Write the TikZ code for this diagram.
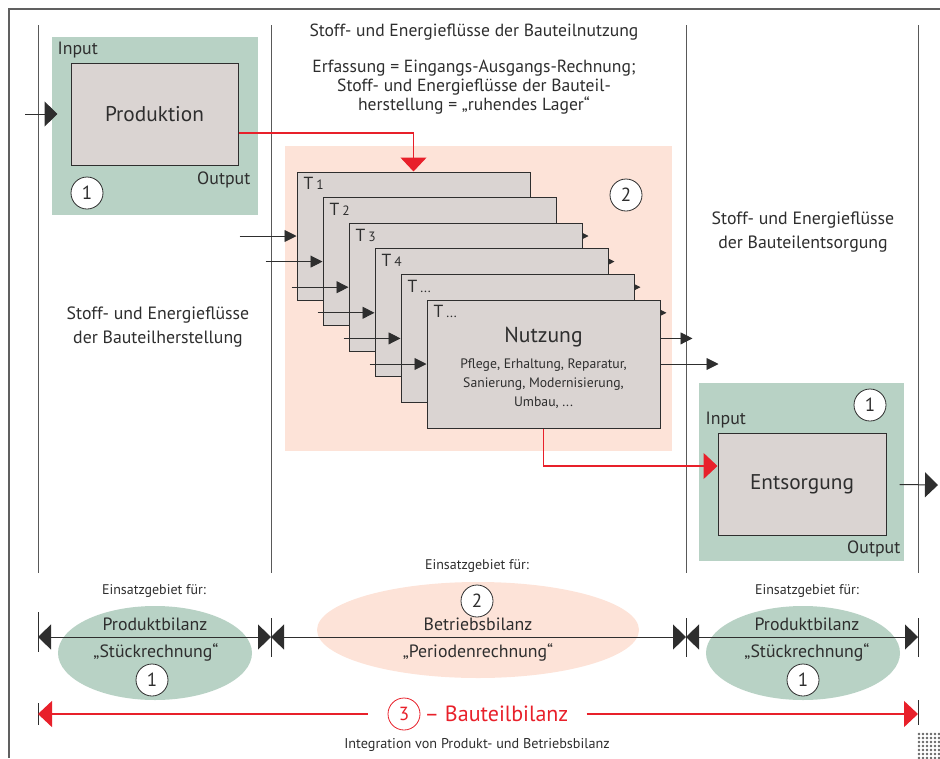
\documentclass[tikz,border=0pt]{standalone}
\usepackage{fontspec}
\setmainfont{PT Sans}
\usetikzlibrary{arrows.meta,positioning}
\definecolor{gruen}{HTML}{B8D2C5}
\definecolor{lachs}{HTML}{FDE3D8}
\definecolor{grau}{HTML}{DAD4D2}
\definecolor{rot}{HTML}{E8202A}
\definecolor{dunkel}{HTML}{2E2E2E}
\newcommand{\schrift}[2]{\fontsize{#1}{#2}\selectfont}
\begin{document}
\begin{tikzpicture}[x=1pt,y=-1pt,text=dunkel,
	feld/.style={fill=gruen,inner sep=0,minimum width=206pt,minimum height=178pt},
	prozess/.style={draw=dunkel,fill=grau,line width=1pt,inner sep=0},
	nummer/.style={circle,draw=dunkel,fill=white,line width=0.8pt,minimum size=32pt,inner sep=0,font={\schrift{19}{22}}},
	gross/.style={-{Triangle[length=13pt,width=25pt]},dunkel,line width=1pt},
	klein/.style={-{Triangle[length=12pt,width=12pt]},dunkel,line width=0.9pt},
	rotpfeil/.style={-{Triangle[length=14pt,width=26pt]},rot,line width=1.3pt},
	mass/.style={{Triangle[length=13pt,width=25pt]}-{Triangle[length=13pt,width=25pt]},dunkel,line width=1pt},
	trenn/.style={gray!70!black,line width=0.9pt},
	text15/.style={align=center,font={\schrift{17.8}{24.5}}},
	klein12/.style={font={\schrift{14}{16}}},
	bilanz/.style={font={\schrift{17.8}{21}}},
	io/.style={inner sep=0,font={\schrift{17.8}{21}}}]
	\useasboundingbox (0,0) rectangle (940,758);
	\draw[gray!75!black,line width=1.6pt] (9,758) -- (9,9) -- (940,9);
	\foreach \x in {38,271,686,918}
		\draw[trenn] (\x,25) -- (\x,573);
	\node[feld] (hfeld) at (155,126) {};
	\node[prozess,minimum width=167pt,minimum height=102pt,font={\schrift{21.3}{25}}] (prod) at (154.5,114) {Produktion};
	\node[io,anchor=south west] (prodin) at ([xshift=-13pt,yshift=4pt]prod.north west) {Input};
	\node[io,anchor=north east] (prodout) at ([xshift=12pt,yshift=-6pt]prod.south east) {Output};
	\node[nummer] (n1) at (87,193) {1};
	\coordinate (pein) at (25,114);
	\draw[gross] (pein) -- ([xshift=-13pt]prod.west);
	\node[fill=lachs,inner sep=0,minimum width=387pt,minimum height=305pt] (nfeld) at (478.5,298.5) {};
	\node[nummer] (n2) at (626,195) {2};
	\foreach \i/\t in {1/1,2/2,3/3,4/4,5/{...},6/{...}}{
		\node[prozess,minimum width=233pt,minimum height=128pt] (t\i) at (387.5+26*\i,210.4+25.6*\i) {};
		\node[anchor=north west,inner sep=0] at ([xshift=7pt,yshift=-6pt]t\i.north west) {\schrift{17.5}{20}T\,{\schrift{13.5}{16}\t}};
		\coordinate[left=57pt of t\i] (e\i);
		\coordinate[right=58pt of t\i] (a\i);
		\draw[klein] (e\i) -- (t\i);
		\draw[klein] (t\i) -- (a\i);
	}
	\node[font={\schrift{21.6}{25}}] (nutz) at ([yshift=27pt]t6.center) {Nutzung};
	\node[align=center,font={\schrift{13.7}{19}}] (massn) at ([yshift=-20pt]t6.center) {Pflege, Erhaltung, Reparatur,\\Sanierung, Modernisierung,\\Umbau, ...};
	\draw[rotpfeil] ([yshift=-19pt]prod.east) -| (t1.north);
	\node[feld,minimum width=205pt] (efeld) at (801.5,472) {};
	\node[prozess,minimum width=168pt,minimum height=102pt,font={\schrift{21.3}{25}}] (ents) at (802,484.5) {Entsorgung};
	\node[io,anchor=south west] (entsin) at ([xshift=-12pt,yshift=5pt]ents.north west) {Input};
	\node[io,anchor=north east] (entsout) at ([xshift=14pt,yshift=-5pt]ents.south east) {Output};
	\node[nummer] (n1b) at (870,405) {1};
	\coordinate (eaus) at (938,485);
	\draw[gross] ([xshift=13pt]ents.east) -- (eaus);
	\draw[rotpfeil] (t6.south) |- ([yshift=18.5pt]ents.west);
	\node[font={\schrift{17.6}{19}}] (titel) at (474,32) {Stoff- und Energieflüsse der Bauteilnutzung};
	\node[align=center,font={\schrift{17.6}{19}}] (erfass) at (474,87) {Erfassung = Eingangs-Ausgangs-Rechnung;\\Stoff- und Energieflüsse der Bauteil-\\herstellung = „ruhendes Lager“};
	\node[text15] (herst) at (158,327) {Stoff- und Energieflüsse\\der Bauteilherstellung};
	\node[text15] (entsorg) at (803,232) {Stoff- und Energieflüsse\\der Bauteilentsorgung};
	\fill[gruen] (155,653) ellipse [x radius=97pt,y radius=47pt];
	\fill[lachs] (478,630) ellipse [x radius=161pt,y radius=48pt];
	\fill[gruen] (803,653) ellipse [x radius=97pt,y radius=47pt];
	\draw[dunkel,line width=0.9pt] (38,612) -- (38,652) (38,703) -- (38,725)
		(271,618) -- (271,657) (686,618) -- (686,657)
		(918,618) -- (918,657) (918,700) -- (918,725);
	\coordinate (m1) at (38,637);
	\coordinate (m2) at (271,637);
	\coordinate (m3) at (686,637);
	\coordinate (m4) at (918,637);
	\draw[mass] (m1) -- (m2);
	\draw[mass] (m2) -- (m3);
	\draw[mass] (m3) -- (m4);
	\node[klein12] (eg1) at (154,591) {Einsatzgebiet für:};
	\node[klein12] (eg2) at (477,566) {Einsatzgebiet für:};
	\node[klein12] (eg3) at (807,591) {Einsatzgebiet für:};
	\node[bilanz] (pb1) at (155,624) {Produktbilanz};
	\node[bilanz] (sr1) at (156,652) {„Stückrechnung“};
	\node[nummer] (k1) at (152,680) {1};
	\node[nummer] (k2) at (477,601) {2};
	\node[bilanz] (bb2) at (478,624) {Betriebsbilanz};
	\node[bilanz] (pr2) at (478,652) {„Periodenrechnung“};
	\node[bilanz] (pb3) at (807,624) {Produktbilanz};
	\node[bilanz] (sr3) at (807,652) {„Stückrechnung“};
	\node[nummer] (k3) at (803,680) {1};
	\node[nummer,draw=rot,text=rot] (n3) at (404,714) {3};
	\node[right=4pt of n3,inner sep=0,text=rot,font={\schrift{22}{26}}] (bt) {– Bauteilbilanz};
	\coordinate (r1) at (38,714);
	\coordinate (r2) at (918,714);
	\draw[rotpfeil,shorten <=20pt] (n3.west) -- (r1);
	\draw[rotpfeil,shorten <=18pt] (bt.east) -- (r2);
	\node[font={\schrift{14.2}{16}}] (integ) at (477,745) {Integration von Produkt- und Betriebsbilanz};
	\foreach \u in {0,...,5}
		\foreach \v in {0,...,6}
			\fill[gray!80!black] (919+4*\u,734+4*\v) circle (1.4pt);
\end{tikzpicture}
\end{document}
